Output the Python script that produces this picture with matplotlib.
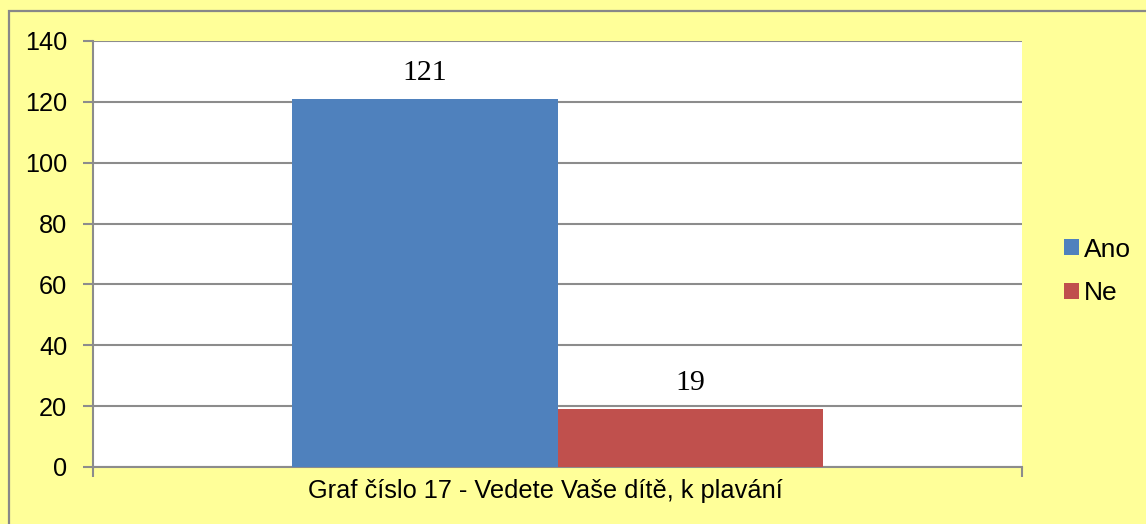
import matplotlib
matplotlib.use("Agg")
import matplotlib.pyplot as plt
from matplotlib.patches import Rectangle, Patch

categories = ["Ano", "Ne"]
values = [121, 19]
colors = ["#4F81BD", "#C0504D"]
yticks = [0, 20, 40, 60, 80, 100, 120, 140]
xlabel = "Graf číslo 17 - Vedete Vaše dítě, k plavání"

W, H = 1146, 524
fig = plt.figure(figsize=(W / 100, H / 100), dpi=100)
fig.patch.set_facecolor("#FFFF99")
fig.patches.append(Rectangle((9 / W, -0.1), 1.2, 1 - 11 / H + 0.1, transform=fig.transFigure,
                             fill=False, edgecolor="#888888", linewidth=1.6))

ax = fig.add_axes([93 / W, (H - 467) / H, (1022 - 93) / W, (467 - 41) / H])
ax.set_facecolor("white")
bw = 0.2863
offsets = [-bw / 2, bw / 2]
for cat, v, c, off in zip(categories, values, colors, offsets):
    ax.bar(off, v, width=bw, color=c, label=cat, zorder=3)
    ax.text(off, v + 6.3, str(v), ha="center", va="baseline", fontsize=21.5,
            family="Liberation Serif", zorder=4)

ax.set_xlim(-0.5, 0.5)
ax.set_ylim(0, 140)
ax.set_yticks(yticks)
ax.yaxis.grid(True, color="#8C8C8C", linewidth=1.5, zorder=1)
ax.set_xticks([-0.5, 0.5])
ax.set_xticklabels([])
ax.tick_params(axis="x", length=7, width=1.5, color="#8C8C8C")
ax.tick_params(axis="y", length=7, width=1.5, color="#8C8C8C", labelsize=18.2, pad=11.5)
for lab in ax.get_yticklabels():
    lab.set_family("Liberation Sans")
for s in ["top", "right"]:
    ax.spines[s].set_visible(False)
for s in ["left", "bottom"]:
    ax.spines[s].set_color("#8C8C8C")
    ax.spines[s].set_linewidth(1.5)

fig.text(545 / W, (H - 498) / H, xlabel, ha="center", va="baseline", fontsize=18.3,
         family="Liberation Sans")

handles = [Patch(facecolor=c, label=l) for l, c in zip(categories, colors)]
fig.legend(handles=handles, loc="center left", bbox_to_anchor=(1064 / W, (H - 271.5) / H),
           frameon=False, prop={"family": "Liberation Sans", "size": 19},
           handlelength=0.55, handleheight=0.55, handletextpad=0.2, labelspacing=0.75,
           borderpad=0, borderaxespad=0)

fig.savefig("out.png", dpi=100, facecolor=fig.get_facecolor())
